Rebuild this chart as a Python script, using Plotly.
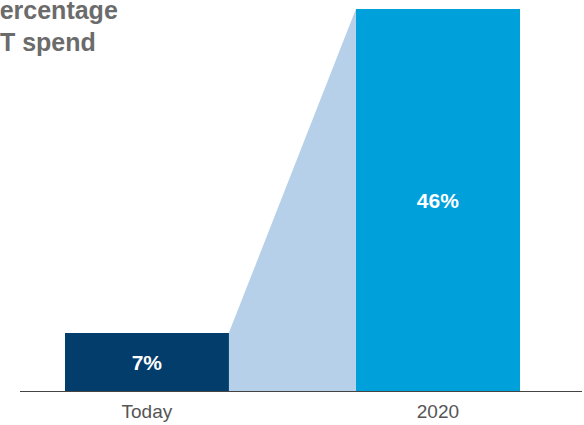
import plotly.graph_objects as go

categories = ["Today", "2020"]
values = [7, 46]
labels = ["7%", "46%"]
bar_colors = ["#023D6B", "#00A0DA"]
title_lines = ["Percentage", "IT spend"]

xpos = [0, 1]
w = 0.5636

fig = go.Figure()

# connector trapezoid
fig.add_trace(go.Scatter(
    x=[xpos[0] + w / 2, xpos[0] + w / 2, xpos[1] - w / 2, xpos[1] - w / 2],
    y=[0, values[0], values[1], 0],
    fill="toself", fillcolor="#B5D0E8", mode="lines",
    line=dict(width=0), hoverinfo="skip", showlegend=False))

fig.add_trace(go.Bar(
    x=xpos, y=values, width=w, marker=dict(color=bar_colors, line=dict(width=0)),
    text=labels, textposition="inside", insidetextanchor="middle",
    textfont=dict(family="Liberation Sans, Arial, sans-serif", size=21, color="white", weight="bold"),
    showlegend=False, hoverinfo="skip"))

fig.update_layout(
    width=584, height=425,
    margin=dict(l=20, r=2, t=0, b=34),
    plot_bgcolor="white", paper_bgcolor="white",
    xaxis=dict(range=[-0.436, 1.495], tickvals=xpos, ticktext=categories,
               showgrid=False, zeroline=False, showline=True, linecolor="#444", linewidth=1,
               ticks="", ticklabelstandoff=3,
               tickfont=dict(family="Liberation Sans, Arial, sans-serif", size=19, color="#555")),
    yaxis=dict(range=[0, 47.08], visible=False, showgrid=False, zeroline=False),
    bargap=0,
)

fig.add_annotation(text=title_lines[0], xref="paper", yref="paper", x=0, y=1,
                   xanchor="left", yanchor="top", xshift=-39, yshift=6, showarrow=False,
                   font=dict(family="Liberation Sans, Arial, sans-serif", size=25, color="#6B6B6B", weight="bold"))
fig.add_annotation(text=title_lines[1], xref="paper", yref="paper", x=0, y=1,
                   xanchor="left", yanchor="top", xshift=-29, yshift=-26, showarrow=False,
                   font=dict(family="Liberation Sans, Arial, sans-serif", size=25, color="#6B6B6B", weight="bold"))

fig.write_html("out.html", config={"displayModeBar": False},
               post_script="document.body.style.margin='0';")
